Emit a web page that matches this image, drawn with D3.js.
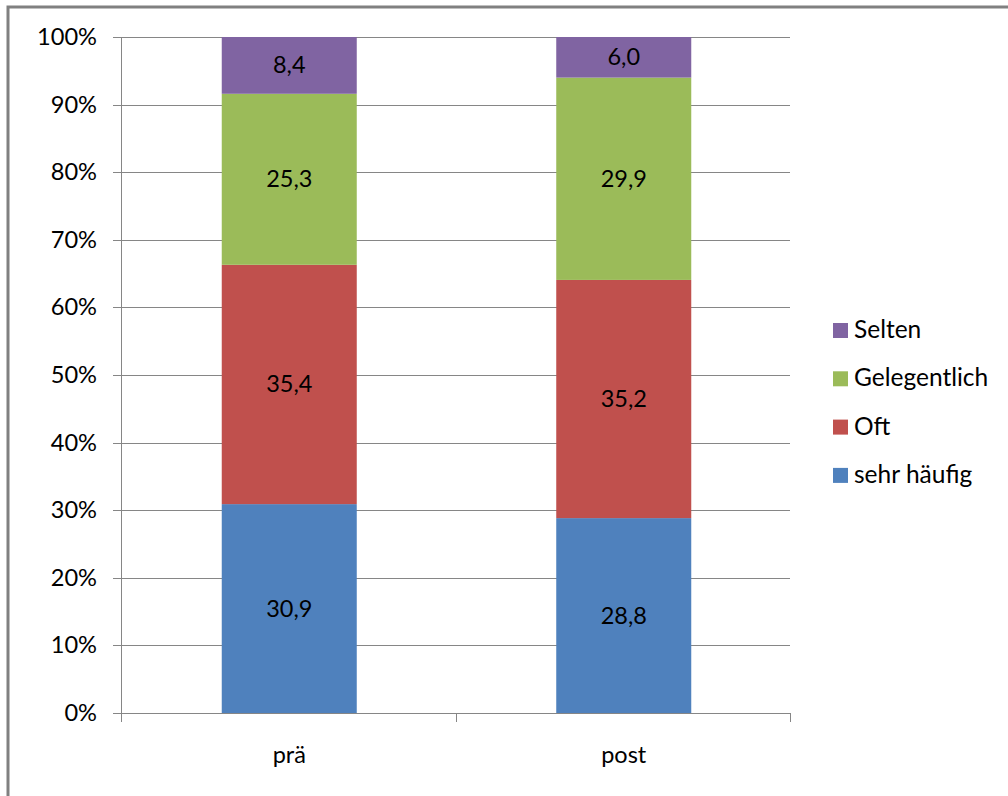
<!DOCTYPE html>
<html>
<head>
<meta charset="utf-8">
<script src="https://cdn.jsdelivr.net/npm/d3@7"></script>
<style>
  html, body { margin: 0; padding: 0; background: #fff; }
  svg { display: block; }
  text { font-family: Lato, "Open Sans", sans-serif; fill: #000; }
</style>
</head>
<body>
<svg id="chart" width="1008" height="796"></svg>
<script>
// ---- data ----
const categories = ["prä", "post"];
const seriesNames = ["sehr häufig", "Oft", "Gelegentlich", "Selten"];
const sehrHaeufig = [30.9, 28.8];
const oft = [35.4, 35.2];
const gelegentlich = [25.3, 29.9];
const selten = [8.4, 6.0];
const seriesColors = ["#4F81BD", "#C0504D", "#9BBB59", "#8064A2"];
const yTicks = [0, 0.1, 0.2, 0.3, 0.4, 0.5, 0.6, 0.7, 0.8, 0.9, 1.0];

const seriesValues = [sehrHaeufig, oft, gelegentlich, selten];
const rows = categories.map((c, i) => {
  const r = { cat: c };
  seriesNames.forEach((s, j) => r[s] = seriesValues[j][i]);
  return r;
});

const svg = d3.select("#chart");

// outer frame
svg.append("rect")
  .attr("x", 8).attr("y", 7).attr("width", 1200).attr("height", 1000)
  .attr("fill", "none").attr("stroke", "#808080").attr("stroke-width", 3);

const plot = { left: 121, right: 790, top: 37, bottom: 713 };

const x = d3.scaleBand().domain(categories)
  .range([plot.left, plot.right])
  .paddingInner(0.5964).paddingOuter(0.2982);
const y = d3.scaleLinear().domain([0, 1]).range([plot.bottom, plot.top]);

const stack = d3.stack().keys(seriesNames).offset(d3.stackOffsetExpand);
const stacked = stack(rows);

const grid = "#868686";
// gridlines
svg.append("g").selectAll("line").data(yTicks).join("line")
  .attr("x1", plot.left - 8).attr("x2", plot.right)
  .attr("y1", d => Math.round(y(d)) + 0.5).attr("y2", d => Math.round(y(d)) + 0.5)
  .attr("stroke", grid).attr("stroke-width", 1);

// y axis line
svg.append("line")
  .attr("x1", plot.left + 0.5).attr("x2", plot.left + 0.5)
  .attr("y1", plot.top).attr("y2", plot.bottom + 9)
  .attr("stroke", grid);

// x ticks
const xTickPos = [plot.left, (plot.left + plot.right) / 2, plot.right];
svg.append("g").selectAll("line").data(xTickPos).join("line")
  .attr("x1", d => Math.round(d) + 0.5).attr("x2", d => Math.round(d) + 0.5)
  .attr("y1", plot.bottom).attr("y2", plot.bottom + 9)
  .attr("stroke", grid);

// y tick labels
svg.append("g").selectAll("text").data(yTicks).join("text")
  .attr("x", 97).attr("y", d => y(d) + 8)
  .attr("text-anchor", "end")
  .attr("font-size", 23.6)
  .text(d => Math.round(d * 100) + "%");

// bars
const layers = svg.append("g").selectAll("g").data(stacked).join("g")
  .attr("fill", (d, i) => seriesColors[i]);
layers.selectAll("rect").data(d => d).join("rect")
  .attr("x", d => x(d.data.cat) + 1)
  .attr("width", x.bandwidth())
  .attr("y", d => y(d[1]))
  .attr("height", d => y(d[0]) - y(d[1]));

// data labels
const labelG = svg.append("g");
stacked.forEach((layer, i) => {
  labelG.selectAll(null).data(layer).join("text")
    .attr("x", d => x(d.data.cat) + 1 + x.bandwidth() / 2)
    .attr("y", d => (y(d[0]) + y(d[1])) / 2 + 8)
    .attr("text-anchor", "middle")
    .attr("font-size", 23.5)
    .text(d => d3.format(".1f")(d.data[seriesNames[i]]).replace(".", ","));
});

// x category labels
svg.append("g").selectAll("text").data(categories).join("text")
  .attr("x", d => x(d) + 1 + x.bandwidth() / 2)
  .attr("y", 763)
  .attr("text-anchor", "middle")
  .attr("font-size", 23.5)
  .text(d => d);

// legend (reverse order)
const legendItems = seriesNames.map((s, i) => ({ name: s, color: seriesColors[i] })).reverse();
const leg = svg.append("g").selectAll("g").data(legendItems).join("g")
  .attr("transform", (d, i) => `translate(833, ${338 + i * 48.3})`);
leg.append("rect").attr("x", 0).attr("y", -15).attr("width", 15).attr("height", 15)
  .attr("fill", d => d.color);
leg.append("text").attr("x", 21).attr("y", 0)
  .attr("font-size", 24.5)
  .text(d => d.name);
</script>
</body>
</html>
